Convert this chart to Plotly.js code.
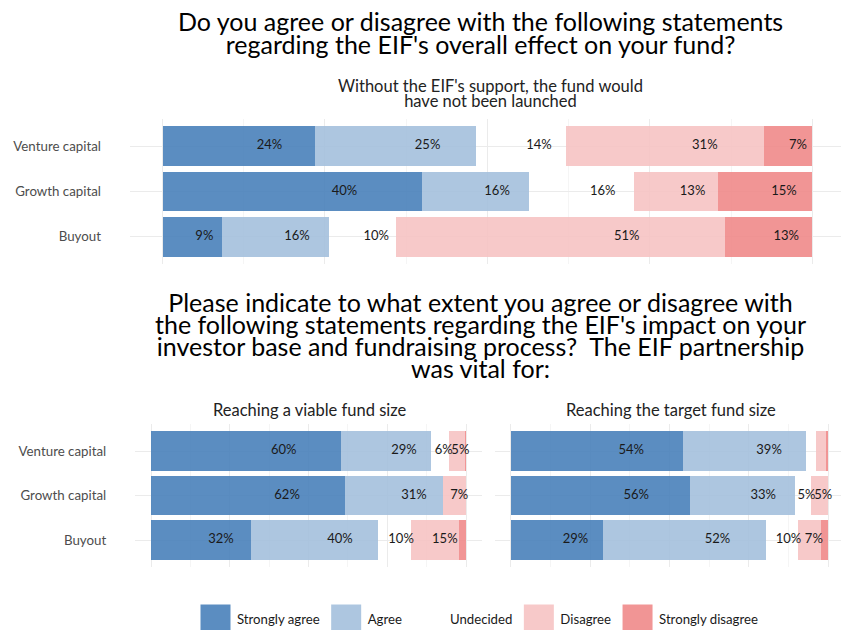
<!DOCTYPE html>
<html><head><meta charset="utf-8">
<script src="https://cdn.plot.ly/plotly-3.0.1.min.js"></script>
<style>html,body{margin:0;padding:0;background:#fff}#chart{width:841px;height:630px}</style>
</head><body><div id="chart"></div>
<script>
const categories = ['Venture capital', 'Growth capital', 'Buyout'];
const levels = ['Strongly agree', 'Agree', 'Undecided', 'Disagree', 'Strongly disagree'];

// Panel 1: Without the EIF's support, the fund would have not been launched
const launchedStronglyAgree = [23.5, 40.0, 9.2];
const launchedAgree = [24.7, 16.4, 16.4];
const launchedUndecided = [13.9, 16.2, 10.4];
const launchedDisagree = [30.5, 12.8, 50.6];
const launchedStronglyDisagree = [7.4, 14.6, 13.4];

// Panel 2: Reaching a viable fund size
const viableStronglyAgree = [60.2, 61.7, 31.7];
const viableAgree = [28.7, 31.1, 40.4];
const viableUndecided = [5.8, 0, 10.4];
const viableDisagree = [5.0, 7.2, 15.4];
const viableStronglyDisagree = [0.3, 0, 2.1];

// Panel 3: Reaching the target fund size
const targetStronglyAgree = [54.1, 56.4, 29.0];
const targetAgree = [38.9, 33.0, 51.5];
const targetUndecided = [3.2, 5.3, 9.9];
const targetDisagree = [3.1, 5.3, 7.2];
const targetStronglyDisagree = [0.7, 0, 2.4];

const panelTitle1 = "Without the EIF's support, the fund would<br>have not been launched";
const panelTitle2 = "Reaching a viable fund size";
const panelTitle3 = "Reaching the target fund size";
const mainTitle1 = "Do you agree or disagree with the following statements<br>regarding the EIF's overall effect on your fund?";
const mainTitle2 = "Please indicate to what extent you agree or disagree with<br>" +
  "the following statements regarding the EIF's impact on your<br>" +
  "investor base and fundraising process?  The EIF partnership<br>" +
  "was vital for:";

const colors = ['rgba(73,129,186,0.9)', 'rgba(164,192,221,0.9)', 'rgba(255,255,255,0)',
  'rgba(246,195,195,0.9)', 'rgba(239,138,138,0.9)'];
const FONT = 'Lato, "Open Sans", sans-serif';

const panels = [
  {series: [launchedStronglyAgree, launchedAgree, launchedUndecided, launchedDisagree, launchedStronglyDisagree], xa: 'x', ya: 'y'},
  {series: [viableStronglyAgree, viableAgree, viableUndecided, viableDisagree, viableStronglyDisagree], xa: 'x2', ya: 'y2'},
  {series: [targetStronglyAgree, targetAgree, targetUndecided, targetDisagree, targetStronglyDisagree], xa: 'x3', ya: 'y3'}
];

const traces = [];
panels.forEach((p, pi) => {
  p.series.forEach((vals, li) => {
    traces.push({
      type: 'bar', orientation: 'h', x: vals, y: categories, name: levels[li],
      xaxis: p.xa, yaxis: p.ya, legendgroup: levels[li], showlegend: pi === 0,
      marker: {color: colors[li], line: {width: 0}}, hoverinfo: 'x+y+name'
    });
  });
  // percentage labels, placed 70% of the way across each segment
  const lx = [], ly = [], lt = [];
  categories.forEach((c, ci) => {
    let cum = 0;
    p.series.forEach(vals => {
      const v = vals[ci];
      if (v >= 4.5) { lx.push(cum + 0.7 * v); ly.push(c); lt.push(Math.round(v) + '%'); }
      cum += v;
    });
  });
  traces.push({type: 'scatter', mode: 'text', x: lx, y: ly, text: lt, xaxis: p.xa, yaxis: p.ya,
    showlegend: false, hoverinfo: 'skip', cliponaxis: false,
    textfont: {family: FONT, size: 13, color: '#1a1a1a'}});
});

const xBase = {showticklabels: false, ticks: '', zeroline: false, showline: false, tick0: 0, dtick: 25,
  gridcolor: '#ebebeb', gridwidth: 1, minor: {dtick: 12.5, showgrid: true, gridcolor: '#f5f5f5', gridwidth: 1}, fixedrange: true};
const yBase = {type: 'category', categoryorder: 'array', categoryarray: categories, range: [2.6, -0.6],
  ticks: '', showline: false, zeroline: false, gridcolor: '#ebebeb', gridwidth: 1, ticklabelstandoff: 28,
  tickfont: {family: FONT, size: 13.3, color: '#4d4d4d'}, fixedrange: true};

const H = 630, W = 841;
function ann(text, xpx, ypx, size, color, yanchor) {
  return {text: text, xref: 'paper', yref: 'paper', x: xpx / W, y: 1 - ypx / H, xanchor: 'center', yanchor: yanchor || 'middle',
    showarrow: false, font: {family: FONT, size: size, color: color}};
}
const annotations = [
  ann(mainTitle1, 480, 4, 25, '#000', 'top'),
  ann(mainTitle2, 480, 285, 25, '#000', 'top'),
  ann(panelTitle1, 490, 74, 16.5, '#222', 'top'),
  ann(panelTitle2, 310, 410, 16.5, '#222'),
  ann(panelTitle3, 671, 410, 16.5, '#222')
];
// line spacing (em) for the multi-line titles, indexed by annotation
const lineSpacing = {0: 0.92, 1: 0.88, 2: 0.91};

const layout = {
  width: W, height: H, margin: {l: 0, r: 0, t: 0, b: 0, autoexpand: false},
  paper_bgcolor: '#fff', plot_bgcolor: '#fff',
  barmode: 'stack', bargap: 0.12,
  font: {family: FONT, size: 12, color: '#1a1a1a'},
  showlegend: true,
  legend: {orientation: 'h', xref: 'container', yref: 'container', x: 194 / W, xanchor: 'left',
    y: 1 - 619 / H, yanchor: 'middle', itemwidth: 33, traceorder: 'normal', bgcolor: 'rgba(0,0,0,0)',
    font: {family: FONT, size: 13.2, color: '#1a1a1a'}, itemclick: false, itemdoubleclick: false},
  xaxis: Object.assign({}, xBase, {domain: [130 / W, 1], range: [-5, 104.4], anchor: 'y'}),
  yaxis: Object.assign({}, yBase, {domain: [1 - 264 / H, 1 - 119 / H], anchor: 'x'}),
  xaxis2: Object.assign({}, xBase, {domain: [135.25 / W, 481.75 / W], range: [-5, 105], anchor: 'y2'}),
  yaxis2: Object.assign({}, yBase, {domain: [1 - 566.7 / H, 1 - 424.3 / H], anchor: 'x2'}),
  xaxis3: Object.assign({}, xBase, {domain: [495.1 / W, 1], range: [-5, 104.0], anchor: 'y3'}),
  yaxis3: Object.assign({}, yBase, {domain: [1 - 566.7 / H, 1 - 424.3 / H], anchor: 'x3', showticklabels: false}),
  annotations: annotations
};

Plotly.newPlot('chart', traces, layout, {displayModeBar: false, responsive: false}).then(gd => {
  // larger legend keys, like the reference
  gd.querySelectorAll('.legend .legendpoints path').forEach(p => p.setAttribute('d', 'M15,14H-15V-14H15Z'));
  // tighter line spacing for multi-line titles
  gd.querySelectorAll('.annotation').forEach(g => {
    const idx = g.getAttribute('data-index');
    const sp = lineSpacing[idx];
    if (sp === undefined) return;
    g.querySelectorAll('text.annotation-text tspan.line').forEach((t, li) => t.setAttribute('dy', (li * sp) + 'em'));
  });
});
</script>
</body></html>
